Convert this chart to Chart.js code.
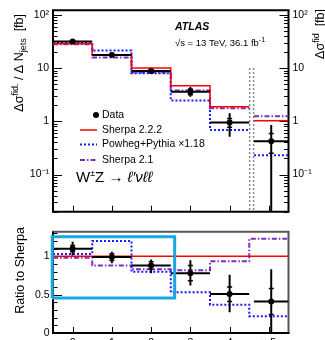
<!DOCTYPE html>
<html>
<head>
<meta charset="utf-8">
<script src="https://cdn.jsdelivr.net/npm/chart.js@4.4.1/dist/chart.umd.min.js"></script>
<style>
  html, body { margin: 0; padding: 0; width: 325px; height: 340px; overflow: hidden; background: #fff; }
  #xsec { position: absolute; left: 0; top: 0; }
  #ratio { position: absolute; left: 0; top: 222px; }
</style>
</head>
<body>
<canvas id="xsec" width="325" height="222"></canvas>
<canvas id="ratio" width="325" height="128"></canvas>
<script>
// ---- jet multiplicity binning ----
const jetLabels   = ['0', '1', '2', '3', '4', '\u2265 5'];
const dataX       = [0, 1, 2, 3, 4, 5.06];
const dataBinLow  = [-0.5, 0.5, 1.5, 2.5, 3.5, 4.62];
const dataBinHigh = [0.5, 1.5, 2.5, 3.5, 4.5, 5.5];
const modelEdges  = [-0.5, 0.5, 1.5, 2.5, 3.5, 4.5, 5.5];
const overflowEdge = 4.62;          // the ">= 5" bin starts after the break
const breakLines  = [4.51, 4.61];   // dotted double line marking the break
const breakTop    = 10;

// ---- fiducial cross sections per bin [fb] ----
const dataXsec   = [31.5, 17.7, 8.8, 3.6, 0.95, 0.42];
const dataTotLo  = [28.9, 16.3, 7.8, 2.9, 0.51, 0.001];
const dataTotHi  = [34.1, 19.0, 9.6, 4.4, 1.42, 0.85];
const dataStatLo = [30.3, 17.0, 8.3, 3.15, 0.77, 0.25];
const dataStatHi = [32.7, 18.4, 9.3, 4.05, 1.13, 0.59];
const sherpa222  = [28.8, 17.9, 10.0, 4.65, 1.87, 1.02];
const powheg     = [29.7, 21.5, 8.0, 2.46, 0.69, 0.23];
const sherpa21   = [28.2, 15.8, 8.3, 3.8, 1.75, 1.25];

// ---- ratios to Sherpa 2.2.2 ----
const ratioData     = [1.10, 0.99, 0.88, 0.78, 0.51, 0.41];
const ratioTotLo    = [1.01, 0.91, 0.78, 0.62, 0.27, 0.0];
const ratioTotHi    = [1.19, 1.06, 0.96, 0.95, 0.76, 0.83];
const ratioStatLo   = [1.06, 0.945, 0.83, 0.68, 0.41, 0.24];
const ratioStatHi   = [1.14, 1.035, 0.93, 0.88, 0.60, 0.58];
const ratioSherpa   = [1, 1];
const ratioPowheg   = [1.03, 1.20, 0.80, 0.53, 0.37, 0.22];
const ratioSherpa21 = [0.98, 0.88, 0.83, 0.82, 0.935, 1.23];

// highlighted region of the ratio panel (data units)
const highlightBox = { x0: -0.52, x1: 2.6, y0: 0.458, y1: 1.256 };

const logTicks   = [0.1, 1, 10, 100];
const logLabels  = { '100': '10\u00B2', '10': '10', '1': '1', '0.1': '10\u207B\u00B9' };
const ratioTicks = [0, 0.5, 1];
const xTicks     = [0, 1, 2, 3, 4, 5];

const FONT = "'Liberation Sans', Arial, Helvetica, sans-serif";
Chart.defaults.font.family = FONT;
Chart.defaults.color = '#000';

const RED = '#ff0000', BLUE = '#1a1aff', PURPLE = '#7b2fc0', CYAN = '#18a8e0';
const DOT = [2, 2], DASHDOT = [5, 2, 1.5, 2];

// ---- point builders ----
function histXsec(v) {
  const p = [];
  for (let i = 0; i < 5; i++) p.push({ x: modelEdges[i], y: v[i] });
  p.push({ x: modelEdges[5], y: v[4] });
  p.push({ x: (modelEdges[5] + overflowEdge) / 2, y: null });
  p.push({ x: overflowEdge, y: v[5] }, { x: modelEdges[6], y: v[5] });
  return p;
}
function histRatio(v) {
  const p = v.map((y, i) => ({ x: modelEdges[i], y }));
  p.push({ x: modelEdges[6], y: v[v.length - 1] });
  return p;
}
function vBars(lo, hi) {
  const p = [];
  dataX.forEach((x, i) => p.push({ x, y: lo[i] }, { x, y: hi[i] }, { x, y: null }));
  return p;
}
function hBars(v) {
  const p = [];
  v.forEach((y, i) => p.push({ x: dataBinLow[i], y }, { x: dataBinHigh[i], y }, { x: dataBinHigh[i], y: null }));
  return p;
}
function markers(v) { return v.map((y, i) => ({ x: dataX[i], y })); }
function statMarks(lo, hi) { return markers(lo).concat(markers(hi)); }

function lineSet(data, color, width, dash, stepped) {
  return { data, borderColor: color, borderWidth: width, borderDash: dash || [],
           stepped: stepped || false, pointRadius: 0, pointHoverRadius: 0,
           fill: false, spanGaps: false, tension: 0 };
}
function dataSets(val, tLo, tHi, sLo, sHi) {
  return [
    { data: markers(val), showLine: false, pointStyle: 'circle', pointRadius: 3,
      pointBackgroundColor: '#000', pointBorderWidth: 0, pointHoverRadius: 3 },
    { data: statMarks(sLo, sHi), showLine: false, pointStyle: 'line', pointRadius: 2.5,
      pointBorderColor: '#000', pointBorderWidth: 1.5, pointHoverRadius: 2.5 },
    lineSet(vBars(tLo, tHi), '#000', 2),
    lineSet(hBars(val), '#000', 2)
  ];
}

// ---- inward tick marks and panel frame ----
const framePlugin = {
  id: 'frame',
  beforeDatasetsDraw(chart, args, o) {
    const { ctx, chartArea: a, scales } = chart;
    const y = scales.y, x = scales.x;
    const seg = (x0, y0, x1, y1) => { ctx.beginPath(); ctx.moveTo(x0, y0); ctx.lineTo(x1, y1); ctx.stroke(); };
    ctx.save();
    ctx.strokeStyle = '#000';
    ctx.lineWidth = 1;
    const yt = [];
    if (o.log) {
      for (let p = -2; p <= 2; p++) for (let m = 1; m <= 9; m++) {
        const v = m * Math.pow(10, p);
        if (v >= y.min && v <= y.max) yt.push([v, m === 1]);
      }
    } else {
      for (let k = 0; k <= Math.floor(y.max * 10 + 1e-6); k++) yt.push([k / 10, k % 5 === 0]);
    }
    yt.forEach(([v, major]) => {
      const py = Math.round(y.getPixelForValue(v)) + 0.5;
      const len = major ? 9 : 4.5;
      seg(a.left, py, a.left + len, py);
      if (o.mirror) seg(a.right, py, a.right - len, py);
    });
    xTicks.forEach(v => {
      const px = Math.round(x.getPixelForValue(v)) + 0.5;
      seg(px, a.bottom, px, a.bottom - 6);
    });
    ctx.lineWidth = 2;
    const c = o.colors;
    ctx.strokeStyle = c.top;    seg(a.left - 1, a.top, a.right + 1, a.top);
    ctx.strokeStyle = c.right;  seg(a.right, a.top, a.right, a.bottom);
    ctx.strokeStyle = c.bottom; seg(a.left - 1, a.bottom, a.right + 1, a.bottom);
    ctx.strokeStyle = c.left;   seg(a.left, a.top, a.left, a.bottom);
    ctx.restore();
  }
};

// text made of pieces with their own size/offset (sub- and superscripts)
function drawRich(ctx, parts, x, y, align, rotate) {
  ctx.save();
  ctx.translate(x, y);
  if (rotate) ctx.rotate(rotate);
  ctx.textBaseline = 'alphabetic';
  ctx.fillStyle = '#000';
  const fontOf = p => `${p.style || ''} ${p.size}px ${FONT}`;
  const widths = parts.map(p => { ctx.font = fontOf(p); return ctx.measureText(p.t).width; });
  const total = widths.reduce((s, w) => s + w, 0);
  let cx = align === 'right' ? -total : align === 'center' ? -total / 2 : 0;
  parts.forEach((p, i) => { ctx.font = fontOf(p); ctx.fillText(p.t, cx, p.dy || 0); cx += widths[i]; });
  ctx.restore();
}

const xsecText = {
  id: 'xsecText',
  afterDraw(chart) {
    const ctx = chart.ctx;
    // axis titles
    drawRich(ctx, [
      { t: '\u0394\u03C3', size: 12.5 }, { t: 'fid.', size: 9, dy: -5 },
      { t: ' / \u0394 N', size: 12.5 }, { t: 'jets', size: 9, dy: 3 },
      { t: '  [fb]', size: 12.5 }
    ], 23, 14, 'right', -Math.PI / 2);
    drawRich(ctx, [
      { t: '\u0394\u03C3', size: 12.5 }, { t: 'fid', size: 9, dy: -5 },
      { t: '  [fb]', size: 12.5 }
    ], 324, 9, 'right', -Math.PI / 2);

    // experiment label
    drawRich(ctx, [{ t: 'ATLAS', size: 10.5, style: 'italic bold' }], 175, 30, 'left');
    drawRich(ctx, [{ t: '\u221As = 13 TeV, 36.1 fb', size: 9.5 }, { t: '-1', size: 7, dy: -4 }], 175, 46, 'left');

    // legend
    ctx.save();
    ctx.fillStyle = '#000';
    ctx.beginPath(); ctx.arc(96, 115, 3, 0, Math.PI * 2); ctx.fill();
    const rows = [
      { y: 130, color: RED, width: 1.5, dash: [], label: 'Sherpa 2.2.2' },
      { y: 144.5, color: BLUE, width: 2, dash: DOT, label: 'Powheg+Pythia \u00D71.18' },
      { y: 160, color: PURPLE, width: 2, dash: DASHDOT, label: 'Sherpa 2.1' }
    ];
    rows.forEach(r => {
      ctx.strokeStyle = r.color; ctx.lineWidth = r.width; ctx.setLineDash(r.dash);
      ctx.beginPath(); ctx.moveTo(80, r.y); ctx.lineTo(97, r.y); ctx.stroke();
    });
    ctx.setLineDash([]);
    ctx.font = `10.5px ${FONT}`;
    ctx.textBaseline = 'middle';
    ctx.fillText('Data', 102, 115);
    rows.forEach(r => ctx.fillText(r.label, 102, r.y));
    ctx.restore();

    // process label
    drawRich(ctx, [
      { t: 'W', size: 15 }, { t: '\u00B1', size: 9, dy: -6 }, { t: 'Z \u2192 ', size: 15 },
      { t: '\u2113\u2032\u03BD\u2113\u2113', size: 15, style: 'italic' }
    ], 76, 182, 'left');
  }
};

const ratioText = {
  id: 'ratioText',
  afterDraw(chart) {
    drawRich(chart.ctx, [{ t: 'Ratio to Sherpa', size: 12.5 }], 23.5, 5, 'right', -Math.PI / 2);
  }
};

const noGrid = { display: false, drawTicks: false };
const noBorder = { display: false };

// ---- upper panel: cross sections ----
new Chart(document.getElementById('xsec'), {
  type: 'line',
  data: {
    datasets: [
      ...dataSets(dataXsec, dataTotLo, dataTotHi, dataStatLo, dataStatHi),
      lineSet(histXsec(sherpa222), RED, 1.5, [], 'before'),
      lineSet(histXsec(powheg), BLUE, 2, DOT, 'before'),
      lineSet(histXsec(sherpa21), PURPLE, 2, DASHDOT, 'before'),
      lineSet([
        { x: breakLines[0], y: breakTop }, { x: breakLines[0], y: 0.02 }, { x: breakLines[0], y: null },
        { x: breakLines[1], y: breakTop }, { x: breakLines[1], y: 0.02 }
      ], '#8a8a8a', 1.5, DOT)
    ]
  },
  options: {
    responsive: false, animation: false, events: [], devicePixelRatio: 1,
    layout: { padding: { top: 8, left: 0, right: 0, bottom: 0 } },
    plugins: {
      legend: { display: false }, tooltip: { enabled: false },
      frame: { log: true, mirror: true, colors: { top: '#000', right: '#000', bottom: '#000', left: '#000' } }
    },
    scales: {
      x: { type: 'linear', min: -0.5, max: 5.5, grid: noGrid, border: noBorder,
           ticks: { display: false }, afterFit(s) { s.height = 6; } },
      y: { type: 'logarithmic', position: 'left', min: 0.02, max: 122, grid: noGrid, border: noBorder,
           ticks: { padding: 4, font: { size: 10.5 }, callback: v => logLabels[String(v)] || '' },
           afterBuildTicks(s) { s.ticks = logTicks.map(v => ({ value: v })); },
           afterFit(s) { s.width = 53; } },
      y2: { type: 'logarithmic', position: 'right', min: 0.02, max: 122, grid: noGrid, border: noBorder,
            ticks: { padding: 4, font: { size: 10.5 }, callback: v => logLabels[String(v)] || '' },
            afterBuildTicks(s) { s.ticks = logTicks.map(v => ({ value: v })); },
            afterFit(s) { s.width = 36.5; } }
    }
  },
  plugins: [framePlugin, xsecText]
});

// ---- lower panel: ratio to Sherpa 2.2.2 ----
new Chart(document.getElementById('ratio'), {
  type: 'line',
  data: {
    datasets: [
      Object.assign(lineSet([
        { x: highlightBox.x0, y: highlightBox.y0 }, { x: highlightBox.x0, y: highlightBox.y1 },
        { x: highlightBox.x1, y: highlightBox.y1 }, { x: highlightBox.x1, y: highlightBox.y0 },
        { x: highlightBox.x0, y: highlightBox.y0 }
      ], CYAN, 3), { clip: false, borderJoinStyle: 'miter' }),
      ...dataSets(ratioData, ratioTotLo, ratioTotHi, ratioStatLo, ratioStatHi),
      lineSet([{ x: modelEdges[0], y: ratioSherpa[0] }, { x: modelEdges[6], y: ratioSherpa[1] }], RED, 1.5),
      lineSet(histRatio(ratioPowheg), BLUE, 2, DOT, 'before'),
      lineSet(histRatio(ratioSherpa21), PURPLE, 2, DASHDOT, 'before')
    ]
  },
  options: {
    responsive: false, animation: false, events: [], devicePixelRatio: 1,
    layout: { padding: { top: 3, left: 0, right: 36.5, bottom: 0 } },
    plugins: {
      legend: { display: false }, tooltip: { enabled: false },
      frame: { log: false, mirror: false, colors: { top: '#555', right: '#555', bottom: '#000', left: '#000' } }
    },
    scales: {
      x: { type: 'linear', min: -0.5, max: 5.5, grid: noGrid, border: noBorder,
           ticks: { padding: 4, font: { size: 10.5 }, maxRotation: 0, autoSkip: false,
                    callback: (v, i) => jetLabels[i] },
           afterBuildTicks(s) { s.ticks = xTicks.map(v => ({ value: v })); },
           afterFit(s) { s.height = 17; } },
      y: { type: 'linear', position: 'left', min: 0, max: 1.32, grid: noGrid, border: noBorder,
           ticks: { padding: 3.5, font: { size: 10.5 }, callback: v => String(v) },
           afterBuildTicks(s) { s.ticks = ratioTicks.map(v => ({ value: v })); },
           afterFit(s) { s.width = 53; } }
    }
  },
  plugins: [framePlugin, ratioText]
});
</script>
</body>
</html>
